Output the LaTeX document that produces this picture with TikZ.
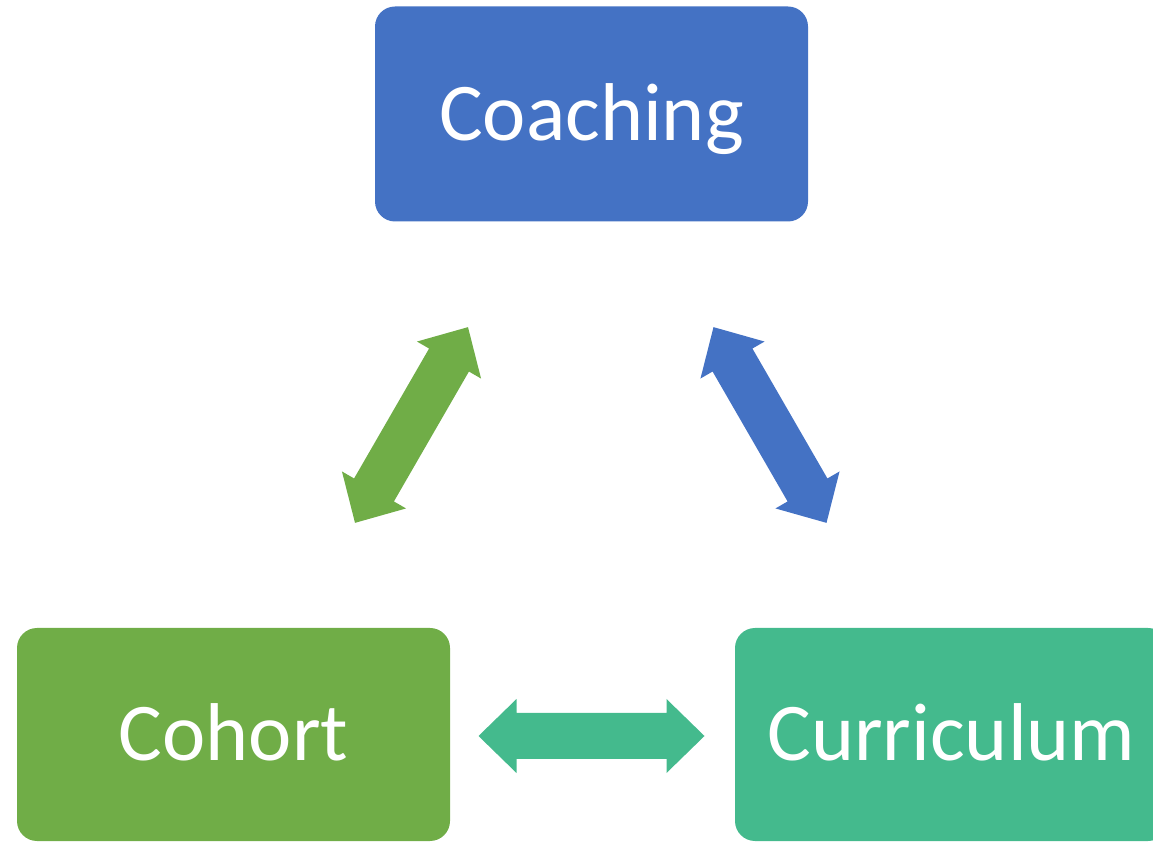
\documentclass[tikz,border=0pt]{standalone}
\usepackage{fontspec}
\setmainfont{Carlito}
\definecolor{cblue}{HTML}{4472C4}
\definecolor{cgreen}{HTML}{70AD47}
\definecolor{cteal}{HTML}{44BA8D}
\newcommand\blockdblarrow[4]{%
  \begin{scope}[shift={(#1,#2)},rotate=#3]
    \fill[#4] (-113,0) -- (-75,37) -- (-75,23) -- (75,23) -- (75,37) -- (113,0)
      -- (75,-37) -- (75,-23) -- (-75,-23) -- (-75,-37) -- cycle;
  \end{scope}}
\begin{document}
\begin{tikzpicture}[x=1pt,y=1pt,
  box/.style={rounded corners=20pt, minimum width=433pt, minimum height=215pt,
    inner sep=0pt, text=white, font=\fontsize{82}{98}\selectfont,
    text height=53pt, text depth=0pt}]
\useasboundingbox (0,0) rectangle (1153,843);
\clip (0,0) rectangle (1153,843);
\node[box, fill=cblue] (coaching) at (591.5,729) {Coaching};
\node[box, fill=cgreen, minimum height=213pt] (cohort) at (233.5,108.5) {Cohort};
\node[box, fill=cteal, minimum height=213pt] (curriculum) at (951.5,108.5) {Curriculum};
\blockdblarrow{411.5}{418}{60}{cgreen}
\blockdblarrow{770}{418}{-60}{cblue}
\blockdblarrow{591.5}{107}{0}{cteal}
\end{tikzpicture}
\end{document}
